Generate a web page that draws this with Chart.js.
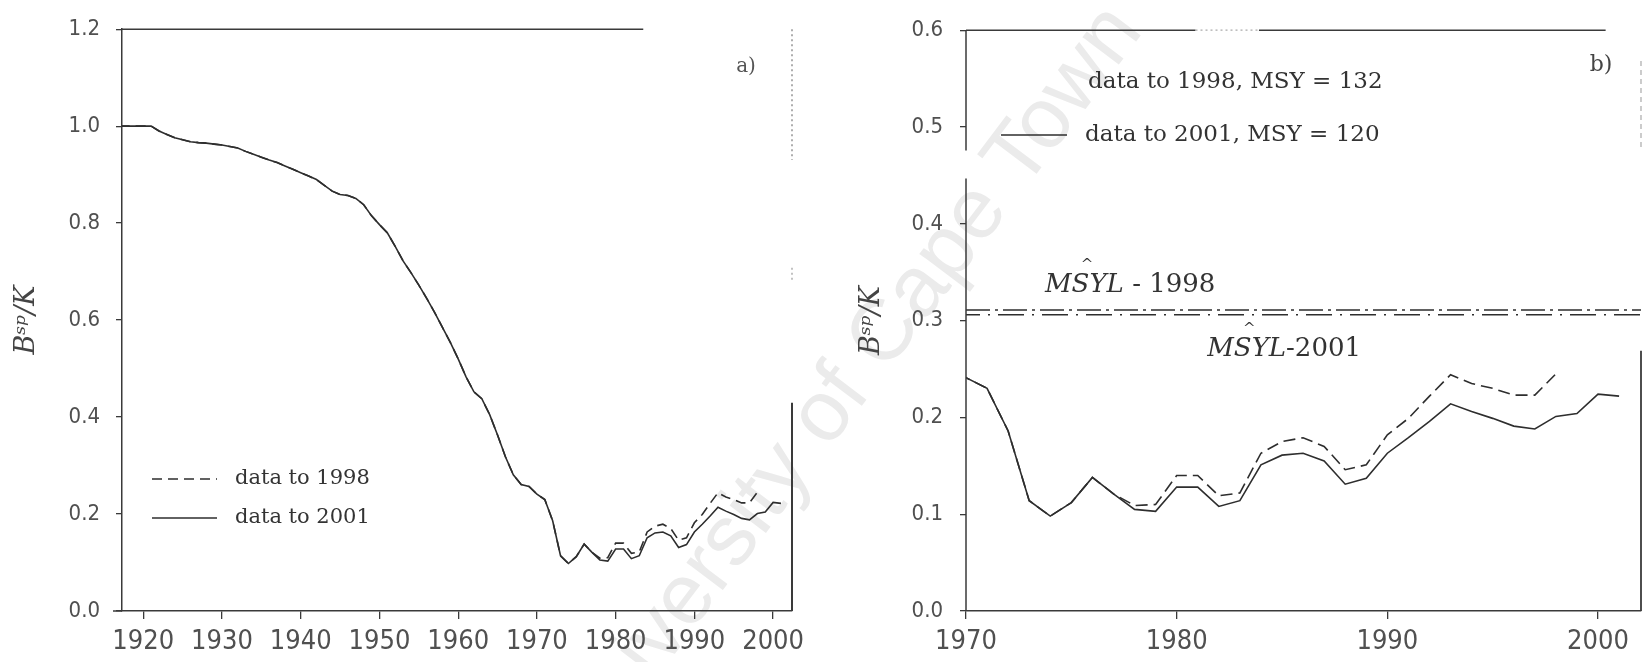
<!DOCTYPE html>
<html><head><meta charset="utf-8">
<script src="https://cdn.jsdelivr.net/npm/chart.js@4.4.1/dist/chart.umd.min.js"></script>
<style>
html,body{margin:0;padding:0;background:#fff;}
#wrap{position:relative;width:1644px;height:662px;overflow:hidden;background:#fff;}
canvas{position:absolute;top:0;}
#ca{left:0;} #cb{left:820px;}
#wm{position:absolute;left:842px;top:383px;font:86px "Liberation Sans",Arial,sans-serif;color:#ebebeb;white-space:nowrap;transform:translate(-50%,-50%) rotate(-53deg);}
</style></head><body>
<div id="wrap"><div id="wm">University of Cape Town</div>
<canvas id="ca" width="820" height="662"></canvas>
<canvas id="cb" width="824" height="662"></canvas></div>
<script>
// ---------------- data ----------------
const years2001 = [1917,1918,1919,1920,1921,1922,1923,1924,1925,1926,1927,1928,1929,1930,1931,1932,1933,1934,1935,1936,1937,1938,1939,1940,1941,1942,1943,1944,1945,1946,1947,1948,1949,1950,1951,1952,1953,1954,1955,1956,1957,1958,1959,1960,1961,1962,1963,1964,1965,1966,1967,1968,1969,1970,1971,1972,1973,1974,1975,1976,1977,1978,1979,1980,1981,1982,1983,1984,1985,1986,1987,1988,1989,1990,1991,1992,1993,1994,1995,1996,1997,1998,1999,2000,2001];
const bsp2001 = [1.000,1.000,1.000,1.000,1.000,0.990,0.983,0.976,0.972,0.968,0.966,0.965,0.963,0.961,0.958,0.955,0.948,0.942,0.936,0.930,0.925,0.918,0.911,0.904,0.897,0.890,0.878,0.866,0.859,0.857,0.851,0.838,0.815,0.797,0.780,0.752,0.722,0.698,0.672,0.645,0.616,0.585,0.554,0.520,0.483,0.452,0.438,0.405,0.363,0.318,0.281,0.261,0.257,0.241,0.230,0.186,0.114,0.098,0.112,0.138,0.121,0.105,0.103,0.128,0.128,0.108,0.114,0.151,0.161,0.163,0.155,0.131,0.137,0.163,0.179,0.196,0.214,0.206,0.199,0.191,0.188,0.201,0.204,0.224,0.222];
const years1998 = [1917,1918,1919,1920,1921,1922,1923,1924,1925,1926,1927,1928,1929,1930,1931,1932,1933,1934,1935,1936,1937,1938,1939,1940,1941,1942,1943,1944,1945,1946,1947,1948,1949,1950,1951,1952,1953,1954,1955,1956,1957,1958,1959,1960,1961,1962,1963,1964,1965,1966,1967,1968,1969,1970,1971,1972,1973,1974,1975,1976,1977,1978,1979,1980,1981,1982,1983,1984,1985,1986,1987,1988,1989,1990,1991,1992,1993,1994,1995,1996,1997,1998];
const bsp1998 = [1.000,1.000,1.000,1.000,1.000,0.990,0.983,0.976,0.972,0.968,0.966,0.965,0.963,0.961,0.958,0.955,0.948,0.942,0.936,0.930,0.925,0.918,0.911,0.904,0.897,0.890,0.878,0.866,0.859,0.857,0.851,0.838,0.815,0.797,0.780,0.752,0.722,0.698,0.672,0.645,0.616,0.585,0.554,0.520,0.483,0.452,0.438,0.405,0.363,0.318,0.281,0.261,0.257,0.241,0.230,0.186,0.114,0.098,0.112,0.138,0.121,0.109,0.110,0.140,0.140,0.119,0.122,0.163,0.175,0.179,0.170,0.146,0.151,0.182,0.199,0.222,0.244,0.235,0.230,0.223,0.223,0.245];
const msyl1998 = 0.311;
const msyl2001 = 0.306;
const seriesLabels = ['data to 1998', 'data to 2001'];
const msyLabels = ['data to 1998, MSY = 132', 'data to 2001, MSY = 120'];
const msylLabels = ['1998', '2001'];
const xTicksA = [1920,1930,1940,1950,1960,1970,1980,1990,2000];
const yTicksA = [0.0,0.2,0.4,0.6,0.8,1.0,1.2];
const xTicksB = [1970,1980,1990,2000];
const yTicksB = [0.0,0.1,0.2,0.3,0.4,0.5,0.6];
const yTitle = 'B\u02E2\u1D56/K';

// ---------------- style ----------------
const INK = '#2e2e2e';
const AX = '#3a3a3a';
const TICKC = '#505050';
const TICKF = '"Liberation Sans Narrow","DejaVu Sans Condensed","Liberation Sans",sans-serif';
const SERIF = '"DejaVu Serif","Liberation Serif",serif';
const pts = (xs, ys) => xs.map((x, i) => ({x: x, y: ys[i]}));

function seg(ctx, x1, y1, x2, y2, dash, color, w) {
  ctx.save(); ctx.beginPath(); ctx.setLineDash(dash || []);
  ctx.strokeStyle = color || AX; ctx.lineWidth = w || 1.5;
  ctx.moveTo(x1, y1); ctx.lineTo(x2, y2); ctx.stroke(); ctx.restore();
}
function txt(ctx, s, x, y, font, color, align) {
  ctx.save(); ctx.font = font; ctx.fillStyle = color || '#333';
  ctx.textAlign = align || 'left'; ctx.textBaseline = 'middle';
  ctx.fillText(s, x, y); ctx.restore();
}

function xScale(min, max, ticks, h) {
  return {
    type: 'linear', min: min, max: max,
    afterBuildTicks: s => { s.ticks = ticks.map(v => ({value: v})); },
    afterFit: s => { s.height = h; },
    grid: {drawOnChartArea: false, drawTicks: true, tickLength: 8, color: AX, lineWidth: 1.3},
    border: {display: true, color: AX, width: 1.5},
    ticks: {color: TICKC, font: {family: TICKF, size: 27}, padding: 7, autoSkip: false, maxRotation: 0,
            callback: v => String(v)}
  };
}
function yScale(max, ticks, w, pad, titlePad, border) {
  return {
    type: 'linear', min: 0, max: max,
    afterBuildTicks: s => { s.ticks = ticks.map(v => ({value: v})); },
    afterFit: s => { s.width = w; },
    grid: {drawOnChartArea: false, drawTicks: true, tickLength: 6, color: AX, lineWidth: 1.3},
    border: {display: border, color: AX, width: 1.5},
    ticks: {color: TICKC, font: {family: TICKF, size: 22}, padding: pad, callback: v => Number(v).toFixed(1)},
    title: {display: true, text: yTitle, color: '#444', font: {family: SERIF, size: 27, style: 'italic'},
            padding: {top: titlePad, bottom: 0}}
  };
}
function lineDs(label, data, dash) {
  return {label: label, data: data, borderColor: INK, borderWidth: 1.6, borderDash: dash,
          pointRadius: 0, fill: false, tension: 0};
}

// ---------------- panel a ----------------
const frameA = {
  id: 'frameA',
  afterDraw(chart) {
    const ctx = chart.ctx, a = chart.chartArea, W = a.right - a.left, H = a.bottom - a.top;
    seg(ctx, a.left, a.top, a.left + 0.778 * W, a.top);
    seg(ctx, a.left - 9, a.bottom, a.left, a.bottom);
    seg(ctx, a.right, a.top, a.right, a.top + 0.225 * H, [2, 3], '#777', 1.2);
    seg(ctx, a.right, a.top + 0.41 * H, a.right, a.top + 0.436 * H, [2, 3], '#999', 1.2);
    seg(ctx, a.right, a.top + 0.642 * H, a.right, a.bottom, [], AX, 2);
    txt(ctx, 'a)', 746, 67, '20px ' + SERIF, '#555', 'center');
    const ds = chart.data.datasets;
    seg(ctx, 152, 479, 217, 479, ds[0].borderDash, INK, 1.5);
    txt(ctx, ds[0].label, 235, 479, '21px ' + SERIF, '#333');
    seg(ctx, 152, 518, 217, 518, [], INK, 1.5);
    txt(ctx, ds[1].label, 235, 518, '21px ' + SERIF, '#333');
  }
};
new Chart(document.getElementById('ca'), {
  type: 'line',
  data: {datasets: [
    lineDs(seriesLabels[0], pts(years1998, bsp1998), [10, 6]),
    lineDs(seriesLabels[1], pts(years2001, bsp2001), [])
  ]},
  options: {
    responsive: false, animation: false, devicePixelRatio: 1,
    layout: {padding: {left: 0, right: 28, top: 24, bottom: 0}},
    plugins: {legend: {display: false}, tooltip: {enabled: false}},
    scales: {x: xScale(1917.3, 2002.4, xTicksA, 51), y: yScale(1.2, yTicksA, 122, 16, 11, true)}
  },
  plugins: [frameA]
});

// ---------------- panel b ----------------
const frameB = {
  id: 'frameB',
  afterDraw(chart) {
    const ctx = chart.ctx, a = chart.chartArea, W = a.right - a.left, H = a.bottom - a.top;
    const xs = chart.scales.x, ys = chart.scales.y;
    seg(ctx, a.left, a.top, a.left + 0.340 * W, a.top);
    seg(ctx, a.left + 0.340 * W, a.top, a.left + 0.434 * W, a.top, [2, 3], '#aaa', 1.2);
    seg(ctx, a.left + 0.434 * W, a.top, a.left + 0.9476 * W, a.top);
    seg(ctx, a.left, a.top, a.left, a.top + 0.207 * H);
    seg(ctx, a.left, a.top + 0.2555 * H, a.left, a.bottom);
    seg(ctx, a.right, a.top + 0.053 * H, a.right, a.top + 0.203 * H, [5, 4], '#aaa', 1.2);
    seg(ctx, a.right, a.top + 0.552 * H, a.right, a.bottom, [], AX, 1.8);
    txt(ctx, 'b)', 781, 65, '22px ' + SERIF, '#444', 'center');
    // legend
    txt(ctx, msyLabels[0], 268, 82, '23px ' + SERIF, '#333');
    seg(ctx, 181, 135, 247, 135, [], INK, 1.5);
    txt(ctx, msyLabels[1], 265, 135, '23px ' + SERIF, '#333');
    // MSYL labels
    const lab = (x0, yc, yr, sep) => {
      ctx.save();
      ctx.font = 'italic 26px ' + SERIF; ctx.fillStyle = '#333'; ctx.textBaseline = 'middle';
      ctx.fillText('MSYL', x0, yc);
      const w = ctx.measureText('MSYL').width;
      ctx.font = '26px ' + SERIF;
      ctx.fillText(sep + yr, x0 + w, yc);
      ctx.font = '15px ' + SERIF; ctx.textBaseline = 'alphabetic'; ctx.textAlign = 'center';
      ctx.fillText('^', x0 + 42, yc - 16);
      ctx.restore();
    };
    lab(xs.getPixelForValue(1973.75), ys.getPixelForValue(0.337), msylLabels[0], ' - ');
    lab(xs.getPixelForValue(1981.45), ys.getPixelForValue(0.2705), msylLabels[1], '-');
  }
};
new Chart(document.getElementById('cb'), {
  type: 'line',
  data: {datasets: [
    {label: 'MSYL 1998', data: [{x: 1970, y: msyl1998}, {x: 2002.04, y: msyl1998}], borderColor: INK,
     borderWidth: 1.5, borderDash: [24, 5, 3, 5], pointRadius: 0},
    {label: 'MSYL 2001', data: [{x: 1970, y: msyl2001}, {x: 2002.04, y: msyl2001}], borderColor: INK,
     borderWidth: 1.5, borderDash: [26, 8, 2, 8], borderDashOffset: 12, pointRadius: 0},
    lineDs(seriesLabels[0], pts(years1998, bsp1998), [12, 6]),
    lineDs(seriesLabels[1], pts(years2001, bsp2001), [])
  ]},
  options: {
    responsive: false, animation: false, devicePixelRatio: 1,
    layout: {padding: {left: 0, right: 3, top: 24, bottom: 0}},
    plugins: {legend: {display: false}, tooltip: {enabled: false}},
    scales: {x: xScale(1970, 2002.04, xTicksB, 51), y: yScale(0.6, yTicksB, 146, 17, 36, false)}
  },
  plugins: [frameB]
});
</script>
</body></html>
